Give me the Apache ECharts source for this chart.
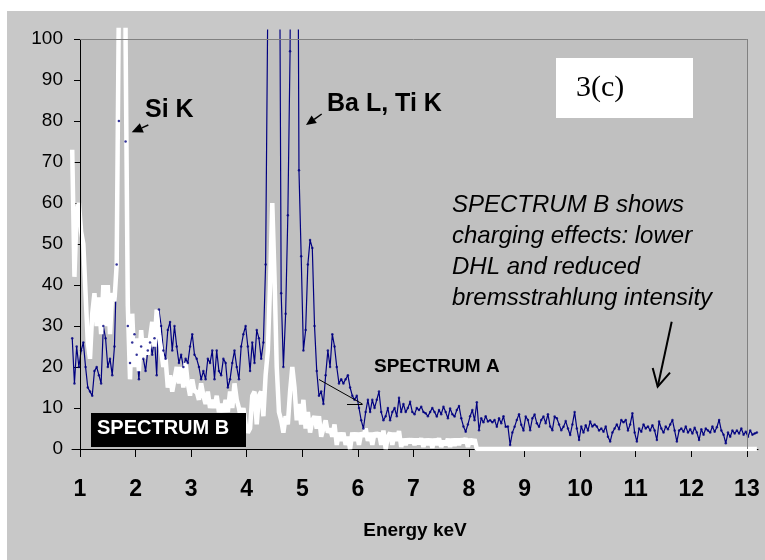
<!DOCTYPE html>
<html>
<head>
<meta charset="utf-8">
<title>Spectrum A / Spectrum B</title>
<script src="https://cdn.jsdelivr.net/npm/echarts@6/dist/echarts.min.js"></script>
<style>
body { margin: 0; background: #fff; }
#main { position: absolute; left: 7px; top: 11px; width: 758px; height: 549px; background: #c8c8c8; }
</style>
</head>
<body>
<div id="main"></div>
<script>
// channel energy calibration (keV): first channel and channel width
var E0 = 0.86, DE = 0.04;

// SPECTRUM A (navy, with dots)
var spectrumA = [
	27,16,25,20,24,26,20,15,14,13,
	19,20,18,16,30,27,20,22,18,25,
	45,80,400,400,75,30,21,26,28,23,
	17,25,22,19,24,26,23,27,18,34,
	30,24,22,29,31,24,30,25,21,23,
	20,22,21,25,28,23,22,20,17,19,
	17,22,21,24,17,24,19,18,22,21,
	15,17,21,24,20,17,25,28,30,25,
	19,26,21,29,27,22,26,45,110,300,
	350,350,300,160,38,20,33,57,97,200,
	250,200,68,47,24,29,45,51,49,30,
	19,13,14,11,18,24,20,28,25,20,
	16,17,16,17,18,15,13,12,13,10,
	7,5,9,12,9,12,10,12,14,9,
	7,8,10,7,9,10,8,12.5,9,11,
	9,10,11.5,9,8.5,10,9.5,10.3,9,8.7,
	8,9,10,9,7.9,9.5,8.5,10.3,9,7.5,
	9.9,8.5,7.9,9.5,10.5,7.5,5.5,4.2,6,8,
	9.5,7,11.4,4.6,7.5,6.5,8,6.7,7,6.5,
	7.1,5.4,7.5,6.3,8,5.4,5.5,1,4,5.4,
	7.1,8.5,5.9,4.5,7.9,7.1,4.6,7.5,8.4,6.3,
	5.4,7.1,7.9,6.3,8.5,5.5,4.6,7.9,7.5,6,
	4.6,5.4,6.8,5,3.4,6,9,5,2.2,5.5,
	4,5.8,4.5,6.7,5.5,6,5.5,4.5,5,4.2,
	5.5,3,1.8,4,5,6,4.8,7.1,6.5,7.1,
	4.5,6,8.7,4,1.8,5,4.2,6,5,5.5,
	4.5,5.8,4.5,2.2,6.7,5,4,5.5,4.8,6,
	7.1,4.5,1.8,4.5,5,4.2,5.5,4,4.8,3.8,
	5.2,4,2.2,4.8,3.5,5,4.5,4,5.5,4.2,
	5.3,7.1,4.5,3.5,1.4,4,3,4.5,3.8,4.5,
	3.8,5,3.5,4.2,3,4.5,3.5,3.8,4
];

// SPECTRUM B (thick white line)
var spectrumB = [
	73,42,58,60,53,50,38,26,22,33,
	38,30,37,28,40,30,40,28,38,36,
	45,110,400,400,100,35,17,33,20,27,
	19,29,22,27,23,27,31,25,34,28,
	24,20,22,15,18,14,17,20,16,20,
	15,21,16,13,17,14,14,12,16,13,
	11,14,10,12,10,13,9,11,9,12,
	9,14,10,16,12,10,7,10,6,4,
	5,13,14,6,13,14,8,18,24,40,
	60,42,20,9,7,4,8,6,14,20,
	15,7,11,6,12,5,9,4,7,8,
	5,8,3,5,7,4,5,3,6,1,
	4,2,4,1,3,0,4,2,4,1,
	4,3,5,2,4,1,4,3,4,1,
	4.5,0,3,4,1,4,2,4.4,0.5,2.5,
	1,2.5,1.5,2.5,1,2.5,1.2,2.6,0.5,2.5,
	1,2.5,0.3,2.5,1,2.6,0.5,2,1,2.5,
	0.5,2.5,0.8,2.5,1,2.5,1.5,2.6,0.5,2.5,
	1.2,2.4,0,0,0,0,0,0,0,0,
	0,0,0,0,0,0,0,0,0,0,
	0,0,0,0,0,0,0,0,0,0,
	0,0,0,0,0,0,0,0,0,0,
	0,0,0,0,0,0,0,0,0,0,
	0,0,0,0,0,0,0,0,0,0,
	0,0,0,0,0,0,0,0,0,0,
	0,0,0,0,0,0,0,0,0,0,
	0,0,0,0,0,0,0,0,0,0,
	0,0,0,0,0,0,0,0,0,0,
	0,0,0,0,0,0,0,0,0,0,
	0,0,0,0,0,0,0,0,0,0,
	0,0,0,0,0,0,0,0,0
];

var xTicks = [1,2,3,4,5,6,7,8,9,10,11,12,13];
var yTicks = [0,10,20,30,40,50,60,70,80,90,100];

function toPoints(arr) {
	var pts = [];
	for (var i = 0; i < arr.length; i++) {
		pts.push([+(E0 + i * DE).toFixed(2), arr[i]]);
	}
	return pts;
}
var ptsA = toPoints(spectrumA);
var ptsB = toPoints(spectrumB);

var SANS = '"Liberation Sans", Arial, sans-serif';

var myChart = echarts.init(document.getElementById('main'));

var option = {
	animation: false,
	grid: { left: 65, top: 19, width: 686, height: 419 },
	xAxis: {
		type: 'value',
		min: 0.856,
		max: 13.2,
		splitLine: { show: false },
		axisLine: { lineStyle: { color: '#000', width: 1 } },
		axisTick: { customValues: xTicks, length: 8, lineStyle: { color: '#000' } },
		axisLabel: {
			customValues: xTicks, margin: 29, color: '#000',
			fontFamily: SANS, fontWeight: 'bold', fontSize: 23
		},
		name: 'Energy keV',
		nameLocation: 'middle',
		nameGap: 72,
		nameTextStyle: { color: '#000', fontFamily: SANS, fontWeight: 'bold', fontSize: 19 }
	},
	yAxis: {
		type: 'value',
		min: 0,
		max: 102.2,
		offset: -8,
		splitLine: { show: false },
		axisLine: { show: false },
		axisTick: { show: true, customValues: yTicks, length: 6, lineStyle: { color: '#000' } },
		axisLabel: { customValues: yTicks, margin: 17, color: '#000', fontFamily: SANS, fontSize: 19 }
	},
	series: [
		{
			// spectrum A line sits under spectrum B
			name: 'SPECTRUM A',
			type: 'line',
			data: ptsA,
			showSymbol: false,
			lineStyle: { color: '#000080', width: 1.2 },
			z: 2
		},
		{
			name: 'SPECTRUM B',
			type: 'line',
			data: ptsB,
			showSymbol: false,
			lineStyle: { color: '#ffffff', width: 4.5 },
			z: 3,
			markArea: {
				silent: true,
				itemStyle: { color: '#c0c0c0' },
				data: [[{ coord: [1, 0] }, { coord: [13, 100] }]]
			},
			markLine: {
				silent: true,
				symbol: ['none', 'none'],
				label: { show: false },
				lineStyle: { type: 'solid', width: 1 },
				data: [
					[{ coord: [1, 0], lineStyle: { color: '#000' } }, { coord: [1, 100] }],
					[{ coord: [1, 100], lineStyle: { color: '#808080' } }, { coord: [13, 100] }],
					[{ coord: [13, 0], lineStyle: { color: '#808080' } }, { coord: [13, 100] }]
				]
			}
		},
		{
			// dots of spectrum A drawn on top
			name: 'SPECTRUM A dots',
			type: 'scatter',
			data: ptsA,
			symbol: 'circle',
			symbolSize: 2.5,
			itemStyle: { color: '#000080' },
			z: 4
		}
	],
	graphic: [
		{ type: 'text', x: 138, y: 99.5, z: 100,
			style: { text: 'Si K', font: 'bold 25px ' + SANS, fill: '#000', textVerticalAlign: 'middle' } },
		{ type: 'polygon', z: 100, shape: { points: [[124.7, 121.3], [136.8, 121.5], [132.8, 112.3]] }, style: { fill: '#000' } },
		{ type: 'line', z: 100, shape: { x1: 134.8, y1: 116.9, x2: 141.3, y2: 114 }, style: { stroke: '#000', lineWidth: 1.5 } },

		{ type: 'text', x: 320, y: 93, z: 100,
			style: { text: 'Ba L, Ti K', font: 'bold 25px ' + SANS, fill: '#000', textVerticalAlign: 'middle' } },
		{ type: 'polygon', z: 100, shape: { points: [[299, 114], [309.8, 112], [304.6, 104.6]] }, style: { fill: '#000' } },
		{ type: 'line', z: 100, shape: { x1: 307.2, y1: 108.3, x2: 314.7, y2: 103 }, style: { stroke: '#000', lineWidth: 1.5 } },

		{ type: 'rect', z: 100, shape: { x: 549, y: 47, width: 137, height: 60 }, style: { fill: '#fff' } },
		{ type: 'text', x: 569, y: 77, z: 101,
			style: { text: '3(c)', font: '30px "Liberation Serif", "Times New Roman", serif', fill: '#000', textVerticalAlign: 'middle' } },

		{ type: 'text', x: 445, y: 194, z: 100,
			style: { text: 'SPECTRUM B shows', font: 'italic 24px ' + SANS, fill: '#000', textVerticalAlign: 'middle' } },
		{ type: 'text', x: 445, y: 225, z: 100,
			style: { text: 'charging effects: lower', font: 'italic 24px ' + SANS, fill: '#000', textVerticalAlign: 'middle' } },
		{ type: 'text', x: 445, y: 256, z: 100,
			style: { text: 'DHL and reduced', font: 'italic 24px ' + SANS, fill: '#000', textVerticalAlign: 'middle' } },
		{ type: 'text', x: 445, y: 287, z: 100,
			style: { text: 'bremsstrahlung intensity', font: 'italic 24px ' + SANS, fill: '#000', textVerticalAlign: 'middle' } },
		{ type: 'line', z: 100, shape: { x1: 664.7, y1: 310.7, x2: 650.7, y2: 375.7 }, style: { stroke: '#000', lineWidth: 2 } },
		{ type: 'polyline', z: 100, shape: { points: [[645.7, 357], [650.7, 375.7], [663, 361.7]] }, style: { stroke: '#000', lineWidth: 2, fill: null } },

		{ type: 'text', x: 367, y: 356, z: 100,
			style: { text: 'SPECTRUM A', font: 'bold 19px ' + SANS, fill: '#000', textVerticalAlign: 'middle' } },
		{ type: 'line', z: 100, shape: { x1: 312, y1: 368.5, x2: 355.5, y2: 393 }, style: { stroke: '#000', lineWidth: 1 } },
		{ type: 'line', z: 100, shape: { x1: 340, y1: 393.5, x2: 355.5, y2: 393.5 }, style: { stroke: '#000', lineWidth: 1 } },

		{ type: 'rect', z: 100, shape: { x: 84, y: 402, width: 155, height: 34 }, style: { fill: '#000' } },
		{ type: 'text', x: 90, y: 417, z: 101,
			style: { text: 'SPECTRUM B', font: 'bold 20px ' + SANS, fill: '#fff', textVerticalAlign: 'middle' } }
	]
};

myChart.setOption(option);
</script>
</body>
</html>
